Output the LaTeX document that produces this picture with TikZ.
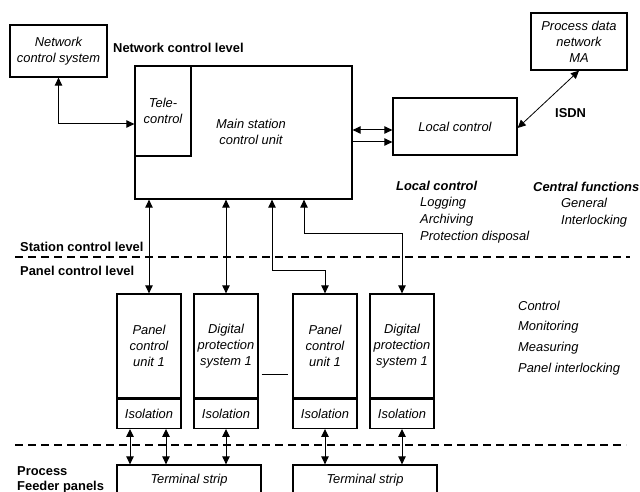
\documentclass[tikz,border=0pt]{standalone}
\usepackage{fontspec}
\setmainfont{Liberation Sans}
\usepackage{tikz}
\usetikzlibrary{positioning,arrows.meta}

\begin{document}
\begin{tikzpicture}[x=1pt,y=-1pt]
\tikzstyle{box}=[rectangle, draw=black, line width=1.3pt, inner sep=0pt, align=center, font=\fontsize{12.9}{16}\selectfont\itshape]
\tikzstyle{unit}=[box, minimum width=64pt, minimum height=104pt]
\tikzstyle{iso}=[box, minimum width=64pt, minimum height=29pt]
\tikzstyle{strip}=[box, minimum width=144pt, minimum height=30pt]
\tikzstyle{lvl}=[anchor=west, inner sep=0pt, align=left, font=\fontsize{12.9}{15}\selectfont\bfseries]
\tikzstyle{txt}=[anchor=west, inner sep=0pt, align=left, font=\fontsize{12.9}{17}\selectfont\itshape]
\tikzstyle{connect}=[{Triangle[length=8pt,width=7.5pt]}-{Triangle[length=8pt,width=7.5pt]}, line width=1pt]
\tikzstyle{sep}=[dash pattern=on 8pt off 5pt, line width=1.3pt]

\useasboundingbox (0,0) rectangle (640,492);

	\node[box, minimum width=97pt, minimum height=52pt] (ncs) at (58.5,51) {Network\\control system};
	\node[box, minimum width=217pt, minimum height=133pt] (main) at (243.5,132.5) {};
	\node[box, minimum width=56pt, minimum height=90pt, anchor=north west] (tele) at (main.north west) {Tele-\\control};
	\node[box, draw=none] (main_lbl) at (251,132) {Main station\\control unit};
	\node[box, minimum width=124pt, minimum height=57pt] (local) at (455,126.5) {Local control};
	\node[box, minimum width=96pt, minimum height=57pt] (pdn) at (579,41.5) {Process data\\network\\MA};

	\node[unit] (pcu_1) at (149,346) {Panel\\control\\unit 1};
	\node[unit] (dps_1) at (226,346) {Digital\\protection\\system 1};
	\node[unit] (pcu_2) at (325,346) {Panel\\control\\unit 1};
	\node[unit] (dps_2) at (402,346) {Digital\\protection\\system 1};
	\node[iso, below=0pt of pcu_1] (iso_1) {Isolation};
	\node[iso, below=0pt of dps_1] (iso_2) {Isolation};
	\node[iso, below=0pt of pcu_2] (iso_3) {Isolation};
	\node[iso, below=0pt of dps_2] (iso_4) {Isolation};

	\node[strip] (strip_1) at (189,480) {Terminal strip};
	\node[strip] (strip_2) at (365,480) {Terminal strip};

	% levels
	\node[lvl] (net_lvl) at (113,48) {Network control level};
	\node[lvl] (stat_lvl) at (20,247) {Station control level};
	\node[lvl] (pan_lvl) at (20,271) {Panel control level};
	\node[lvl] (proc_lvl) at (17,479.5) {Process\\Feeder panels};
	\node[lvl] (isdn) at (555,113) {ISDN};

	% functions
	\node[txt, font=\fontsize{12.9}{17}\selectfont\bfseries\itshape] (loc_head) at (396,186) {Local control};
	\node[txt] (loc_list) at (420,220.5) {Logging\\Archiving\\Protection disposal};
	\node[txt, font=\fontsize{12.9}{17}\selectfont\bfseries\itshape] (cen_head) at (533,187) {Central functions};
	\node[txt] (cen_list) at (561,212.5) {General\\Interlocking};
	\node[txt, font=\fontsize{12.9}{20.7}\selectfont\itshape] (pan_list) at (518,338) {Control\\Monitoring\\Measuring\\Panel interlocking};

	\draw[sep] (15,257) -- (630,257);
	\draw[sep] (15,445) -- (626,445);

	\draw[connect] (ncs.south) |- ([yshift=-13pt]tele.west);
	\draw[connect] (main.east |- 0,130) -- (local.west |- 0,130);
	\draw[-{Triangle[length=8pt,width=7.5pt]}, line width=1pt] (main.east |- 0,142) -- (local.west |- 0,142);
	\draw[connect, line width=0.8pt] (pdn.south) -- (local.east |- 0,128);

	\draw[connect] (main.south -| pcu_1.north) -- (pcu_1.north);
	\draw[connect] (main.south -| dps_1.north) -- (dps_1.north);
	\draw[connect] (main.south -| 272,0) -- (272,270) -| (pcu_2.north);
	\draw[connect] (main.south -| 304,0) -- (304,233) -| (dps_2.north);
	\draw[line width=1pt, shorten <=3pt, shorten >=4pt] (dps_1.east |- 0,374) -- (pcu_2.west |- 0,374);

	\draw[connect] (iso_1.south -| 130,0) -- (strip_1.north -| 130,0);
	\draw[connect] (iso_1.south -| 166,0) -- (strip_1.north -| 166,0);
	\draw[connect] (iso_2.south) -- (iso_2.south |- strip_1.north);
	\draw[connect] (iso_3.south) -- (iso_3.south |- strip_2.north);
	\draw[connect] (iso_4.south) -- (iso_4.south |- strip_2.north);

\end{tikzpicture}
\end{document}
